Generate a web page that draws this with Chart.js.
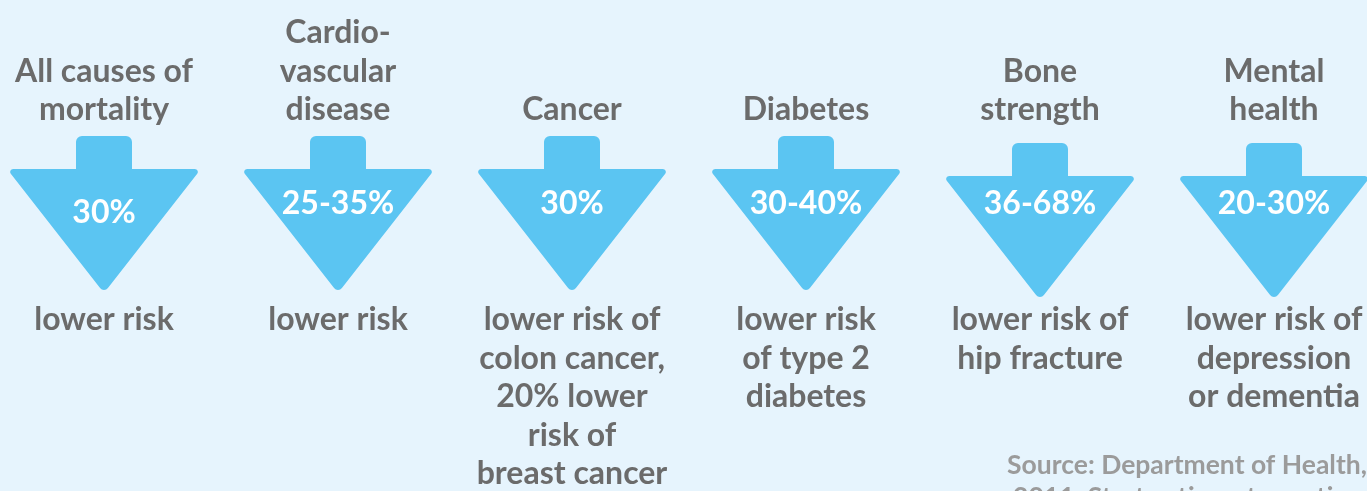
<!DOCTYPE html>
<html>
<head>
<meta charset="utf-8">
<script src="https://cdn.jsdelivr.net/npm/chart.js@4.4.1/dist/chart.umd.min.js"></script>
<style>
  html, body { margin: 0; padding: 0; background: #e6f4fd; }
  #wrap { width: 1367px; height: 491px; position: relative; }
</style>
</head>
<body>
<div id="wrap"><canvas id="chart"></canvas></div>
<script>
// categories (multi-line headings)
const categories = [
    ["All causes of", "mortality"],
    ["Cardio-", "vascular", "disease"],
    ["Cancer"],
    ["Diabetes"],
    ["Bone", "strength"],
    ["Mental", "health"]
];
// reduction in risk, percent (low / high end of range)
const lowPct  = [30, 25, 30, 30, 36, 20];
const highPct = [30, 35, 30, 40, 68, 30];
// what the reduction applies to
const outcomes = [
    ["lower risk"],
    ["lower risk"],
    ["lower risk of", "colon cancer,", "20% lower", "risk of", "breast cancer"],
    ["lower risk", "of type 2", "diabetes"],
    ["lower risk of", "hip fracture"],
    ["lower risk of", "depression", "or dementia"]
];
const sourceLines = ["Source: Department of Health,", "2011: Start active, stay active"];

// styling
const ARROW = '#5bc5f2';
const TEXT = '#6b6b6b';
const arrowDrop = [0, 0, 0, 0, 7, 7];     // small per-column nudge seen in the picture
const labelDrop = [9, 0, 0, 0, -7, -7];
const COL = 234, FIRST = 104;

const pctLabel = i => lowPct[i] === highPct[i] ? lowPct[i] + '%' : lowPct[i] + '-' + highPct[i] + '%';

const points = categories.map((c, i) => ({ x: i, y: 0 }));

function roundedPoly(ctx, pts) {
    const n = pts.length;
    const mid = (a, b) => [(a[0] + b[0]) / 2, (a[1] + b[1]) / 2];
    const start = mid(pts[n - 1], pts[0]);
    ctx.beginPath();
    ctx.moveTo(start[0], start[1]);
    for (let k = 0; k < n; k++) {
        const p = pts[k], q = pts[(k + 1) % n];
        ctx.arcTo(p[0], p[1], q[0], q[1], p[2]);
    }
    ctx.closePath();
}

const arrowPlugin = {
    id: 'arrows',
    afterDatasetsDraw(chart) {
        const ctx = chart.ctx;
        const meta = chart.getDatasetMeta(0);
        ctx.save();
        meta.data.forEach((pt, i) => {
            const cx = pt.x;
            const top = pt.y - 79 + arrowDrop[i];
            ctx.fillStyle = ARROW;
            roundedPoly(ctx, [
                [cx + 28, top, 6],
                [cx + 28, top + 33, 0],
                [cx + 97, top + 33, 3],
                [cx, top + 157, 5],
                [cx - 97, top + 33, 3],
                [cx - 28, top + 33, 0],
                [cx - 28, top, 6]
            ]);
            ctx.fill();
            ctx.fillStyle = '#ffffff';
            ctx.font = 'bold 32px Lato';
            ctx.textAlign = 'center';
            ctx.textBaseline = 'middle';
            ctx.fillText(pctLabel(i), cx, pt.y - 11.5 + labelDrop[i] + arrowDrop[i]);
        });
        // source note
        ctx.fillStyle = '#9b9b9b';
        ctx.font = 'bold 26.5px Lato';
        ctx.textAlign = 'center';
        ctx.textBaseline = 'middle';
        ctx.fillText(sourceLines[0], 1187, 465);
        ctx.fillText(sourceLines[1], 1187, 497);
        ctx.restore();
    }
};

const axisFont = { family: 'Lato', size: 32, weight: 'bold', lineHeight: 1.203 };

function textAxis(position, labels, height) {
    return {
        type: 'linear',
        position: position,
        min: -FIRST / COL,
        max: (1367 - FIRST) / COL,
        grid: { display: false, drawTicks: false },
        border: { display: false },
        afterBuildTicks: axis => { axis.ticks = labels.map((l, i) => ({ value: i })); },
        afterFit: axis => { axis.height = height; axis.paddingLeft = 0; axis.paddingRight = 0; },
        ticks: {
            padding: 0,
            autoSkip: false,
            maxRotation: 0,
            minRotation: 0,
            color: TEXT,
            font: axisFont,
            callback: v => labels[v]
        }
    };
}

new Chart(document.getElementById('chart'), {
    type: 'scatter',
    data: {
        datasets: [{
            data: points,
            xAxisID: 'x',
            yAxisID: 'y',
            pointRadius: 0,
            pointHoverRadius: 0
        }]
    },
    options: {
        responsive: true,
        maintainAspectRatio: false,
        animation: false,
        events: [],
        layout: { padding: 0 },
        plugins: { legend: { display: false }, tooltip: { enabled: false } },
        scales: {
            x: textAxis('top', categories, 129.25),
            x2: textAxis('bottom', outcomes, 190.25),
            y: { type: 'linear', min: -1, max: 1, display: false }
        }
    },
    plugins: [arrowPlugin]
});
</script>
</body>
</html>
